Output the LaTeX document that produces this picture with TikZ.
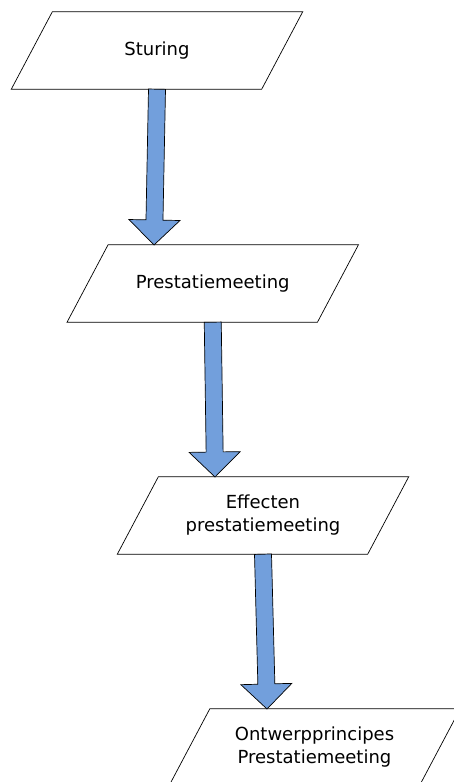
\documentclass[tikz,border=0pt]{standalone}
\usepackage{fontspec}
\setmainfont{DejaVu Sans}
\usepackage{tikz}
\usetikzlibrary{calc,positioning}
\definecolor{ArrowBlue}{HTML}{729FDC}
\tikzset{box style/.style={minimum width=250pt, minimum height=77pt, inner sep=0pt, align=center, font=\fontsize{18}{23}\selectfont},
box line/.style={draw, line width=0.7pt},
flow style/.style={draw, line width=0.7pt, fill=ArrowBlue, line join=miter}}
% block arrow from (#1) down to tip (#2)
\newcommand{\flowarrow}[2]{%
\coordinate (h) at ($(#2)!25pt!(#1)$);
\draw[flow style] ($(#1)!8.5pt!90:(#2)$) -- ($(h)!8.5pt!-90:(#1)$) -- ($(h)!25.5pt!-90:(#1)$) -- (#2)
  -- ($(h)!25.5pt!90:(#1)$) -- ($(h)!8.5pt!90:(#1)$) -- ($(#1)!8.5pt!-90:(#2)$) -- cycle;}

\begin{document}
\begin{tikzpicture}[x=1pt, y=-1pt]
\clip (0,0) rectangle (454,782);

\node[box style] (S) at (157,50.5) {Sturing};
\node[box style] (P) at (212.75,283.5) {Prestatiemeeting};
\node[box style] (E) at (263,515.5) {Effecten\\prestatiemeeting};
\node[box style] (O) at (314.5,747.5) {Ontwerpprincipes\\Prestatiemeeting};

% slanted outlines
\foreach \n in {S,P,E,O}
  \draw[box line] ($(\n.south west)+(-20.5,0)$) -- ($(\n.south east)+(-20.5,0)$) -- ($(\n.north east)+(20.5,0)$) -- ($(\n.north west)+(20.5,0)$) -- cycle;

\coordinate (T1) at (154,245);
\coordinate (T2) at (215,477);
\coordinate (T3) at (267,709);

\flowarrow{S.south}{T1}
\flowarrow{P.south}{T2}
\flowarrow{E.south}{T3}
\end{tikzpicture}
\end{document}
